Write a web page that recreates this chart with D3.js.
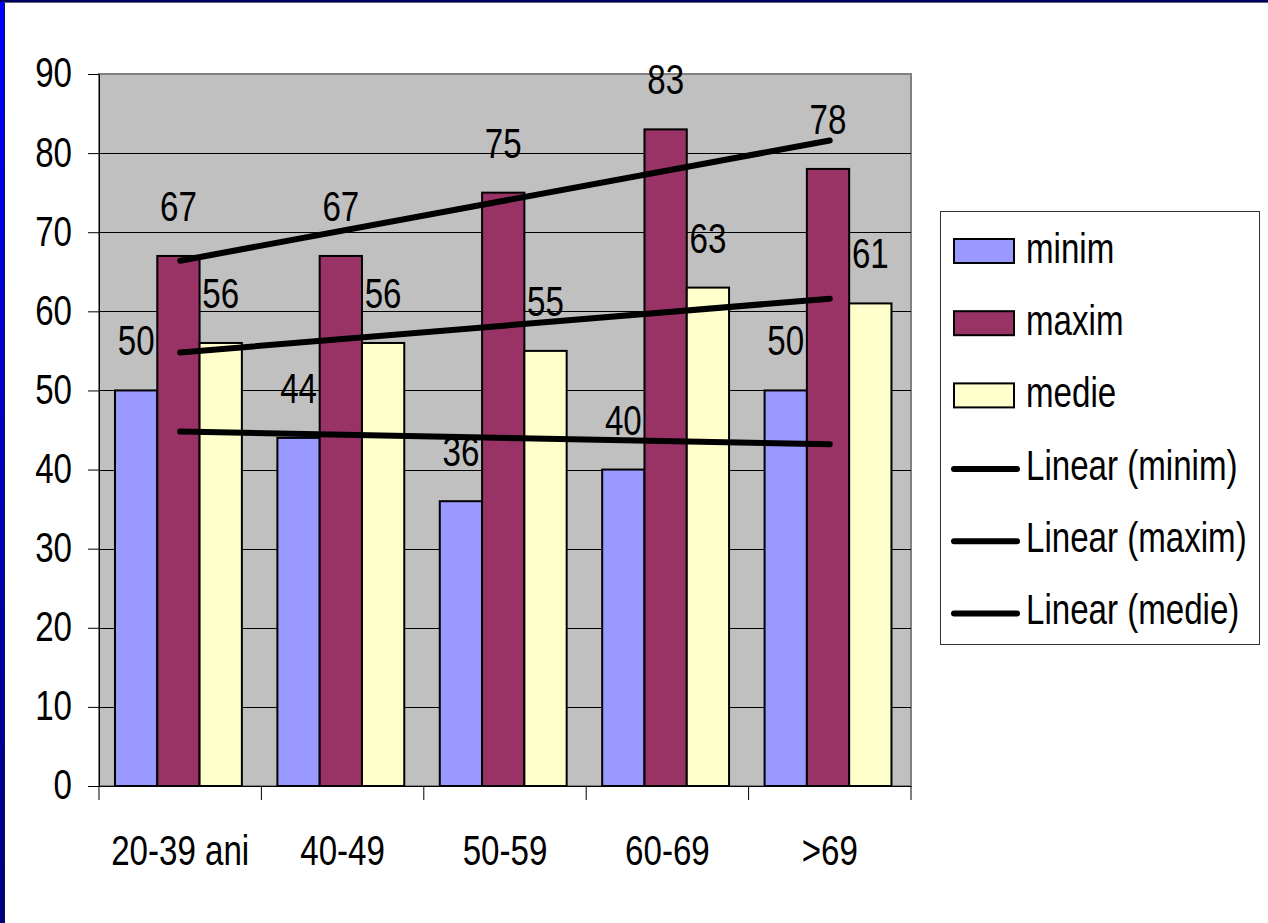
<!DOCTYPE html>
<html>
<head>
<meta charset="utf-8">
<script src="https://cdn.jsdelivr.net/npm/d3@7"></script>
<style>
  html, body { margin: 0; padding: 0; background: #fff; }
  svg { display: block; }
  text { font-family: "Liberation Sans", Arial, sans-serif; font-size: 43px; fill: #000; }
</style>
</head>
<body>
<svg id="chart" width="1268" height="923"></svg>
<script>
// chart values
const categories = ["20-39 ani", "40-49", "50-59", "60-69", ">69"];
const seriesNames = ["minim", "maxim", "medie"];
const minim = [50, 44, 36, 40, 50];
const maxim = [67, 67, 75, 83, 78];
const medie = [56, 56, 55, 63, 61];
const yTicks = [0, 10, 20, 30, 40, 50, 60, 70, 80, 90];
const colors = {minim: "#9999FF", maxim: "#993366", medie: "#FFFFCC"};

const values = {minim: minim, maxim: maxim, medie: medie};
const plot = {left: 99, right: 911, top: 74, bottom: 786};
const sx = 0.77; // narrow type, as in the picture

const svg = d3.select("#chart");

// frame of the slide
const grad = svg.append("defs").append("linearGradient")
  .attr("id", "edge").attr("x1", 0).attr("y1", 0).attr("x2", 0).attr("y2", 1);
grad.append("stop").attr("offset", "0%").attr("stop-color", "#0000ff");
grad.append("stop").attr("offset", "100%").attr("stop-color", "#000080");
svg.append("rect").attr("x", 0).attr("y", 0).attr("width", 4).attr("height", 923).attr("fill", "url(#edge)");
svg.append("rect").attr("x", 4).attr("y", 0).attr("width", 1).attr("height", 923).attr("fill", "#101040");
svg.append("rect").attr("x", 0).attr("y", 0).attr("width", 1268).attr("height", 2).attr("fill", "#000060");
svg.append("rect").attr("x", 4).attr("y", 2).attr("width", 1264).attr("height", 1).attr("fill", "#606080");

const y = d3.scaleLinear().domain([0, 90]).range([plot.bottom, plot.top]);
const x0 = d3.scaleBand().domain(categories).range([plot.left, plot.right]).padding(0);
const x1 = d3.scaleBand().domain(seriesNames).range([0, x0.bandwidth()])
  .paddingInner(0).paddingOuter(0.42).align(0.45);

// plot area
svg.append("rect")
  .attr("x", plot.left).attr("y", plot.top)
  .attr("width", plot.right - plot.left).attr("height", plot.bottom - plot.top)
  .attr("fill", "#C0C0C0").attr("stroke", "#808080").attr("stroke-width", 2);

svg.append("g").selectAll("line")
  .data(yTicks.filter(d => d > 0 && d < 90))
  .enter().append("line")
  .attr("x1", plot.left).attr("x2", plot.right)
  .attr("y1", d => Math.round(y(d)) + 0.5).attr("y2", d => Math.round(y(d)) + 0.5)
  .attr("stroke", "#000").attr("stroke-width", 1);

// bars
const groups = svg.append("g").selectAll("g")
  .data(categories)
  .enter().append("g")
  .attr("transform", d => "translate(" + x0(d) + ",0)");

groups.selectAll("rect")
  .data((c, i) => seriesNames.map(s => ({s: s, v: values[s][i]})))
  .enter().append("rect")
  .attr("x", d => x1(d.s))
  .attr("y", d => y(d.v))
  .attr("width", x1.bandwidth())
  .attr("height", d => y(0) - y(d.v))
  .attr("fill", d => colors[d.s])
  .attr("stroke", "#000").attr("stroke-width", 2);

// data labels
groups.selectAll("text")
  .data((c, i) => seriesNames.map(s => ({s: s, v: values[s][i]})))
  .enter().append("text")
  .attr("text-anchor", "middle")
  .attr("transform", d => "translate(" + (x1(d.s) + x1.bandwidth() / 2) + "," + (y(d.v) - 35) + ") scale(" + sx + ",1)")
  .text(d => d.v);

// axes
const yAxis = svg.append("g")
  .attr("transform", "translate(" + plot.left + ",0)")
  .call(d3.axisLeft(y).tickValues(yTicks).tickSize(11).tickSizeOuter(0));
yAxis.selectAll("text")
  .attr("x", -27 / sx).attr("dy", "0.3em")
  .attr("transform", "scale(" + sx + ",1)")
  .style("font-size", "43px").style("font-family", "'Liberation Sans', Arial, sans-serif");

const xAxis = svg.append("g")
  .attr("transform", "translate(0," + plot.bottom + ")")
  .call(d3.axisBottom(x0).tickSize(0).tickSizeOuter(0));
xAxis.selectAll("text")
  .attr("y", 0).attr("dy", 0)
  .attr("transform", "translate(0,79) scale(" + sx + ",1)")
  .style("font-size", "43px").style("font-family", "'Liberation Sans', Arial, sans-serif");
svg.selectAll(".domain").attr("stroke", "#000");
svg.selectAll(".tick line").attr("stroke", "#000");

// ticks between categories
const bounds = categories.map(c => x0(c)).concat([x0.range()[1]]);
svg.append("g").selectAll("line")
  .data(bounds)
  .enter().append("line")
  .attr("x1", d => d).attr("x2", d => d)
  .attr("y1", plot.bottom).attr("y2", plot.bottom + 14)
  .attr("stroke", "#000").attr("stroke-width", 1);

// linear trend lines
const xs = categories.map((c, i) => i + 1);
function fit(ys) {
  const mx = d3.mean(xs), my = d3.mean(ys);
  const b = d3.sum(xs, (xv, i) => (xv - mx) * (ys[i] - my)) / d3.sum(xs, xv => (xv - mx) * (xv - mx));
  return xv => my + b * (xv - mx);
}
const cx = i => x0(categories[i]) + x0.bandwidth() / 2;
svg.append("g").selectAll("line")
  .data(seriesNames)
  .enter().append("line")
  .attr("x1", cx(0)).attr("x2", cx(categories.length - 1))
  .attr("y1", s => y(fit(values[s])(1)))
  .attr("y2", s => y(fit(values[s])(categories.length)))
  .attr("stroke", "#000").attr("stroke-width", 6).attr("stroke-linecap", "round");

// legend
const legendItems = seriesNames.map(s => ({label: s, type: "bar", s: s}))
  .concat(seriesNames.map(s => ({label: "Linear (" + s + ")", type: "line", s: s})));
const legend = svg.append("g");
legend.append("rect")
  .attr("x", 940.5).attr("y", 211.5).attr("width", 319).attr("height", 433)
  .attr("fill", "#fff").attr("stroke", "#333").attr("stroke-width", 1);
const items = legend.selectAll("g")
  .data(legendItems)
  .enter().append("g")
  .attr("transform", (d, i) => "translate(0," + (263 + i * 72.2) + ")");
items.filter(d => d.type === "bar").append("rect")
  .attr("x", 954).attr("y", -24).attr("width", 60).attr("height", 24)
  .attr("fill", d => colors[d.s]).attr("stroke", "#000").attr("stroke-width", 2);
items.filter(d => d.type === "line").append("line")
  .attr("x1", 954).attr("x2", 1017).attr("y1", -10.5).attr("y2", -10.5)
  .attr("stroke", "#000").attr("stroke-width", 6).attr("stroke-linecap", "round");
items.append("text")
  .attr("transform", "translate(1026,0) scale(" + sx + ",1)")
  .text(d => d.label);
</script>
</body>
</html>
